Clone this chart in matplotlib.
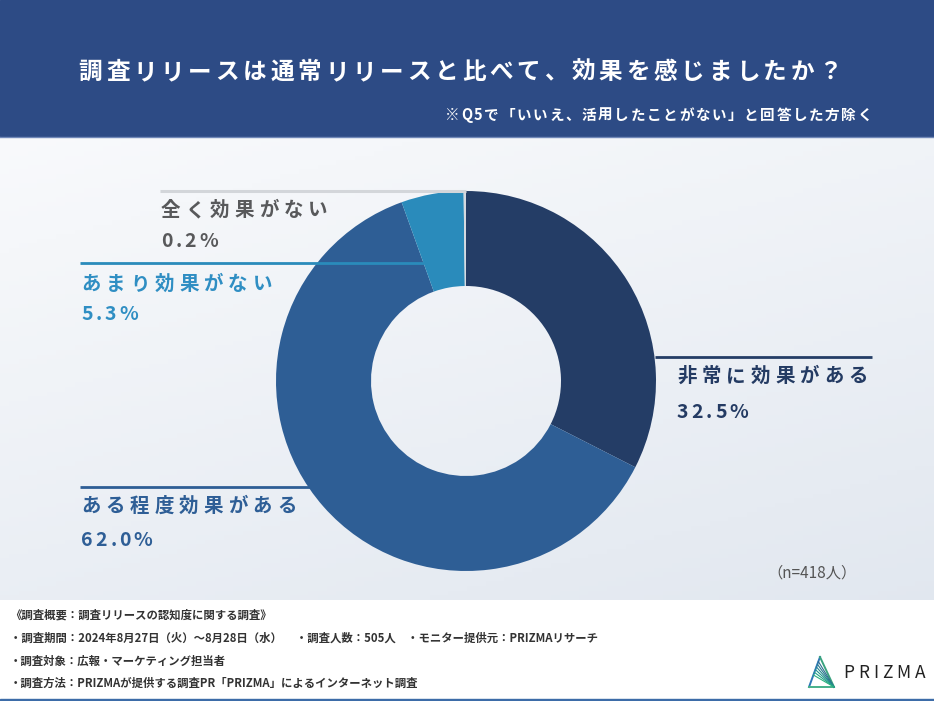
import matplotlib
matplotlib.use('Agg')
import matplotlib.pyplot as plt
import numpy as np
from matplotlib.patches import Rectangle

plt.rcParams['font.family'] = ['Noto Sans CJK JP', 'DejaVu Sans']

W, H = 934, 701

# chart data
labels = ['非常に効果がある', 'ある程度効果がある', 'あまり効果がない', '全く効果がない']
shares = [32.5, 62.0, 5.3, 0.2]
wedge_colors = ['#243d66', '#2e5e95', '#2a8bbb', '#d5d9df']
text_colors = ['#243b63', '#2e5e96', '#2f8ec3', '#58595b']
n_total = 418

title = '調査リリースは通常リリースと比べて、効果を感じましたか？'
note = '※Q5で「いいえ、活用したことがない」と回答した方除く'
footer_lines = [
    '《調査概要：調査リリースの認知度に関する調査》',
    '・調査期間：2024年8月27日（火）～8月28日（水）　 ・調査人数：505人　・モニター提供元：PRIZMAリサーチ',
    '・調査対象：広報・マーケティング担当者',
    '・調査方法：PRIZMAが提供する調査PR「PRIZMA」によるインターネット調査',
]

fig = plt.figure(figsize=(9.34, 7.01), dpi=100)
ax = fig.add_axes([0, 0, 1, 1])
renderer = fig.canvas.get_renderer()


def Y(y):
    # image row -> axes y
    return H - y


def spaced(x, y, s, size, color, track, ha='left', weight='bold', z=6):
    widths = []
    for ch in s:
        t = ax.text(0, 0, ch, fontsize=size, weight=weight)
        widths.append(t.get_window_extent(renderer).width if ch.strip() else size * 0.4)
        t.remove()
    total = sum(widths) + track * (len(s) - 1)
    if ha == 'center':
        x -= total / 2
    elif ha == 'right':
        x -= total
    for ch, w in zip(s, widths):
        ax.text(x, Y(y), ch, fontsize=size, weight=weight, color=color,
                va='baseline', ha='left', zorder=z)
        x += w + track


# background: header, gradient body, white footer
yy, xx = np.mgrid[0:1:100j, 0:1:100j]
t = 0.65 * yy + 0.35 * xx
top = np.array([0.975, 0.98, 0.988])
bot = np.array([0.885, 0.908, 0.940])
grad = top + (bot - top) * t[..., None]
ax.imshow(grad, extent=(0, W, Y(600), Y(137)), aspect='auto', zorder=0)
ax.add_patch(Rectangle((0, Y(136)), W, 136, color='#2d4b85', zorder=1))
ax.plot([0, W], [Y(136.5), Y(136.5)], color='#7088b8', lw=1, zorder=2)
ax.add_patch(Rectangle((0, 0), W, 2.5, color='#3d6ca8', zorder=1))

# donut
cx, cy, r = 466, 381, 190
ax.pie(shares, colors=wedge_colors, startangle=90, counterclock=False,
       center=(cx, Y(cy)), radius=r,
       wedgeprops=dict(width=r * 0.5, linewidth=0, zorder=3))

ax.set_xlim(0, W)
ax.set_ylim(0, H)
ax.axis('off')

# header text
spaced(460, 79, title, 17, 'white', 3.75, ha='center')
spaced(872, 120, note, 10.5, 'white', 1.6, ha='right')

# leader lines and labels
lines = [
    (655, 872, 357),   # 非常に
    (80, 310, 487),    # ある程度
    (80, 424, 263),    # あまり
    (160, 466, 191),   # 全く
]
label_pos = [(677, 382, 418), (81, 512, 546), (81, 290, 320), (161, 216, 247)]
for i, lab in enumerate(labels):
    x0, x1, ly = lines[i]
    ax.plot([x0, x1], [Y(ly), Y(ly)], color=wedge_colors[i] if i < 3 else '#d3d6da',
            lw=2 if i < 3 else 2.2, zorder=4, solid_capstyle='butt')
    lx, b1, b2 = label_pos[i]
    spaced(lx, b1, lab, 14, text_colors[i], 5.0)
    spaced(lx, b2, f'{shares[i]:.1f}%', 14, text_colors[i], 3.0)

ax.text(857, Y(578), f'（n={n_total}人）', fontsize=11, color='#555555',
        ha='right', va='baseline', zorder=5)

# footer notes
for j, line in enumerate(footer_lines):
    ax.text(10, Y(619 + j * 22.7), line, fontsize=8.2, weight='bold', color='#333333',
            ha='left', va='baseline', zorder=5)

# PRIZMA logo
apex = (820, Y(657))
bl = (809, Y(687))
br = (834, Y(687))
logo_cols = plt.cm.viridis(np.linspace(0.35, 0.75, 8))
ax.plot([bl[0], apex[0]], [bl[1], apex[1]], color='#2f78b8', lw=1.4, zorder=5)
ax.plot([apex[0], br[0]], [apex[1], br[1]], color='#3aa37f', lw=1.4, zorder=5)
ax.plot([bl[0], br[0]], [bl[1], br[1]], color='#45b08a', lw=1.4, zorder=5)
for k, f in enumerate(np.linspace(0.15, 0.6, 6)):
    px = apex[0] + (bl[0] - apex[0]) * f
    py = apex[1] + (bl[1] - apex[1]) * f
    ax.plot([px, br[0]], [py, br[1]], color=logo_cols[k], lw=0.8, zorder=5)
spaced(843, 678, 'PRIZMA', 12.5, '#222222', 4.0, weight='normal')

fig.savefig('out.png', dpi=100, facecolor='white')
